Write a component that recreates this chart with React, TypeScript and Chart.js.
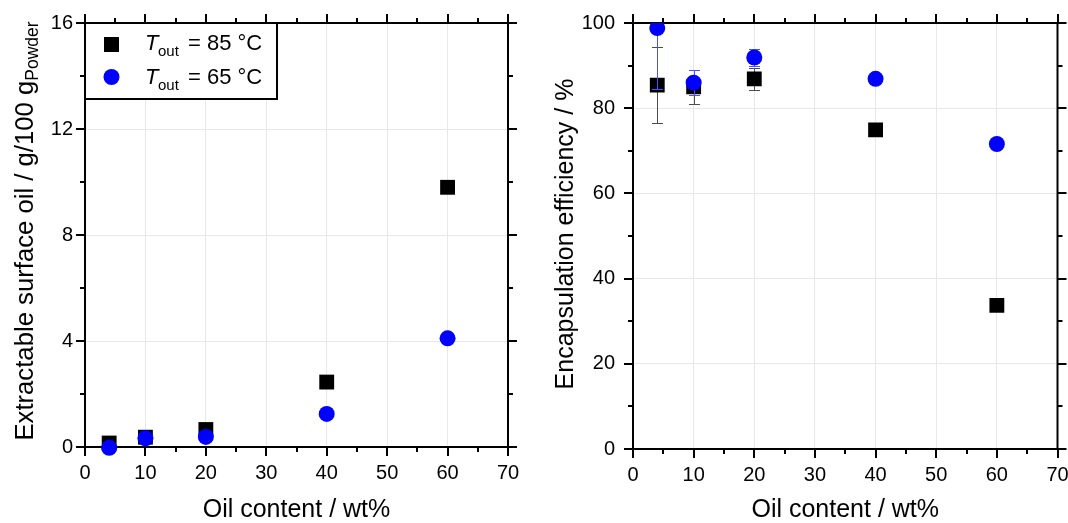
import React, { useEffect, useRef } from 'react';
import { Chart, registerables } from 'chart.js';

Chart.register(...registerables);

// ---------- data ----------
const oilContent = [4, 10, 20, 40, 60];
const surfaceOil85 = [0.15, 0.37, 0.66, 2.45, 9.8];
const surfaceOil65 = [-0.03, 0.33, 0.38, 1.25, 4.1];
const efficiency85 = [85.4, 85.0, 86.9, 74.9, 33.7];
const efficiency85Err = [8.9, 3.9, 2.6, 0.8, 1.4];
const efficiency65 = [98.8, 86.0, 91.9, 86.9, 71.6];
const efficiency65Err = [14.3, 3.0, 2.0, 0.8, 0.8];

const xMinorTicks = [5, 15, 25, 35, 45, 55, 65];
const xMajorTicks = [0, 10, 20, 30, 40, 50, 60, 70];
const leftYMajorTicks = [0, 4, 8, 12, 16];
const leftYMinorTicks = [2, 6, 10, 14];
const rightYMajorTicks = [0, 20, 40, 60, 80, 100];
const rightYMinorTicks = [10, 30, 50, 70, 90];

const legendTemps = ['85 °C', '65 °C'];
const xTitle = 'Oil content / wt%';
const leftYTitle = 'Extractable surface oil / g/100 g';
const leftYTitleSub = 'Powder';
const rightYTitle = 'Encapsulation efficiency / %';

const FONT = '"Liberation Sans", Arial, Helvetica, sans-serif';
const BLACK = '#000000';
const BLUE = '#0000ff';

type PanelCfg = {
  ys85: number[];
  ys65: number[];
  err85?: number[];
  err65?: number[];
  yMin: number;
  yMax: number;
  yStep: number;
  yMajor: number[];
  yMinor: number[];
  yWidth: number;
  xHeight: number;
  padRight: number;
  yLabelPad: number;
  clip: boolean;
  yTitleParts: { text: string; size: number; dy: number }[];
  yTitleX: number;
  yTitleY: number;
  legend: boolean;
};

function decorPlugin(p: PanelCfg) {
  return {
    id: 'decor',
    beforeDatasetsDraw(chart: any) {
      const { ctx, chartArea: a, scales } = chart;
      const x = scales.x;
      const y = scales.y;
      ctx.save();
      ctx.strokeStyle = BLACK;
      ctx.lineWidth = 2;
      ctx.lineCap = 'butt';
      ctx.strokeRect(a.left, a.top, a.right - a.left, a.bottom - a.top);
      const hTicks = (vals: number[], len: number) => {
        vals.forEach((v) => {
          const px = Math.round(x.getPixelForValue(v));
          ctx.beginPath();
          ctx.moveTo(px, a.bottom);
          ctx.lineTo(px, a.bottom + len);
          ctx.moveTo(px, a.top);
          ctx.lineTo(px, a.top - len);
          ctx.stroke();
        });
      };
      const vTicks = (vals: number[], len: number) => {
        vals.forEach((v) => {
          const py = Math.round(y.getPixelForValue(v));
          ctx.beginPath();
          ctx.moveTo(a.left, py);
          ctx.lineTo(a.left - len, py);
          ctx.moveTo(a.right, py);
          ctx.lineTo(a.right + len, py);
          ctx.stroke();
        });
      };
      hTicks(xMajorTicks, 9);
      hTicks(xMinorTicks, 5);
      vTicks(p.yMajor, 9);
      vTicks(p.yMinor, 5);
      ctx.restore();
    },
    beforeDatasetDraw(chart: any, args: any) {
      const ds = chart.data.datasets[args.index];
      if (!ds.errors) return;
      const { ctx, chartArea: a, scales } = chart;
      const x = scales.x;
      const y = scales.y;
      ctx.save();
      ctx.beginPath();
      ctx.rect(a.left, a.top, a.right - a.left, a.bottom - a.top);
      ctx.clip();
      ctx.strokeStyle = ds.errColor;
      ctx.lineWidth = 1;
      ds.data.forEach((pt: any, i: number) => {
        const e = ds.errors[i];
        const px = Math.round(x.getPixelForValue(pt.x)) + 0.5;
        const t = Math.round(y.getPixelForValue(pt.y + e)) + 0.5;
        const b = Math.round(y.getPixelForValue(pt.y - e)) + 0.5;
        ctx.beginPath();
        ctx.moveTo(px, t);
        ctx.lineTo(px, b);
        ctx.moveTo(px - 5.5, t);
        ctx.lineTo(px + 5.5, t);
        ctx.moveTo(px - 5.5, b);
        ctx.lineTo(px + 5.5, b);
        ctx.stroke();
      });
      ctx.restore();
    },
    afterDraw(chart: any) {
      const { ctx, chartArea: a } = chart;
      ctx.save();
      ctx.fillStyle = BLACK;
      // x title
      ctx.font = `25px ${FONT}`;
      ctx.textAlign = 'center';
      ctx.textBaseline = 'alphabetic';
      ctx.fillText(xTitle, (a.left + a.right) / 2, 517);
      // y title (rotated, may contain subscript)
      ctx.save();
      ctx.translate(p.yTitleX, p.yTitleY);
      ctx.rotate(-Math.PI / 2);
      ctx.textAlign = 'left';
      let total = 0;
      const widths = p.yTitleParts.map((part) => {
        ctx.font = `${part.size}px ${FONT}`;
        const w = ctx.measureText(part.text).width;
        total += w;
        return w;
      });
      let cx = -total / 2;
      p.yTitleParts.forEach((part, i) => {
        ctx.font = `${part.size}px ${FONT}`;
        ctx.fillText(part.text, cx, part.dy);
        cx += widths[i];
      });
      ctx.restore();
      // legend
      if (p.legend) {
        const lx = a.left;
        const ly = a.top;
        const lw = 192;
        const lh = 76;
        ctx.fillStyle = '#ffffff';
        ctx.fillRect(lx, ly, lw, lh);
        ctx.strokeStyle = BLACK;
        ctx.lineWidth = 2;
        ctx.strokeRect(lx, ly, lw, lh);
        // markers
        ctx.fillStyle = BLACK;
        ctx.fillRect(lx + 19, ly + 14, 15, 15);
        ctx.fillStyle = BLUE;
        ctx.beginPath();
        ctx.arc(lx + 26.5, ly + 54, 8, 0, Math.PI * 2);
        ctx.fill();
        ctx.fillStyle = BLACK;
        const rows = [ly + 27, ly + 61];
        rows.forEach((by, i) => {
          ctx.textAlign = 'left';
          ctx.font = `italic 22px ${FONT}`;
          ctx.fillText('T', lx + 60, by);
          ctx.font = `15px ${FONT}`;
          ctx.fillText('out', lx + 73, by + 6);
          ctx.font = `22px ${FONT}`;
          ctx.fillText('= ' + legendTemps[i], lx + 103, by);
        });
      }
      ctx.restore();
    },
  };
}

function makeConfig(p: PanelCfg): any {
  const tickFont = { family: FONT, size: 20 };
  return {
    type: 'scatter',
    data: {
      datasets: [
        {
          label: 'T_out = 85 °C',
          data: oilContent.map((x, i) => ({ x, y: p.ys85[i] })),
          pointStyle: 'rect',
          pointRadius: 10.5,
          pointHoverRadius: 10.5,
          backgroundColor: BLACK,
          borderColor: BLACK,
          borderWidth: 0,
          order: 2,
          errors: p.err85,
          errColor: '#4d4d4d',
          clip: p.clip ? undefined : false,
        },
        {
          label: 'T_out = 65 °C',
          data: oilContent.map((x, i) => ({ x, y: p.ys65[i] })),
          pointStyle: 'circle',
          pointRadius: 8,
          pointHoverRadius: 8,
          backgroundColor: BLUE,
          borderColor: BLUE,
          borderWidth: 0,
          order: 1,
          errors: p.err65,
          errColor: '#4f4fff',
          clip: p.clip ? undefined : false,
        },
      ],
    },
    options: {
      animation: false,
      responsive: false,
      devicePixelRatio: 1,
      events: [],
      layout: { padding: { top: 23, right: p.padRight, left: 0, bottom: 0 } },
      plugins: { legend: { display: false }, tooltip: { enabled: false }, title: { display: false } },
      scales: {
        x: {
          type: 'linear',
          position: 'bottom',
          min: 0,
          max: 70,
          ticks: { stepSize: 10, padding: 14, color: BLACK, font: tickFont, maxRotation: 0, autoSkip: false },
          grid: { color: '#e8e8e8', lineWidth: 1, drawTicks: false },
          border: { display: false },
          afterFit: (s: any) => {
            s.height = p.xHeight;
            s.paddingLeft = 0;
            s.paddingRight = 0;
          },
        },
        y: {
          type: 'linear',
          position: 'left',
          min: p.yMin,
          max: p.yMax,
          ticks: { stepSize: p.yStep, padding: p.yLabelPad, color: BLACK, font: tickFont, autoSkip: false },
          grid: { color: '#e8e8e8', lineWidth: 1, drawTicks: false },
          border: { display: false },
          afterFit: (s: any) => {
            s.width = p.yWidth;
            s.paddingTop = 0;
            s.paddingBottom = 0;
          },
        },
      },
    },
    plugins: [decorPlugin(p)],
  };
}

function Panel({ cfg, left }: { cfg: PanelCfg; left: number }) {
  const ref = useRef<HTMLCanvasElement | null>(null);
  useEffect(() => {
    if (!ref.current) return;
    const chart = new Chart(ref.current, makeConfig(cfg));
    return () => chart.destroy();
  }, []);
  return (
    <canvas
      ref={ref}
      width={534}
      height={523}
      style={{ position: 'absolute', left, top: 0, width: 534, height: 523 }}
    />
  );
}

const leftCfg: PanelCfg = {
  ys85: surfaceOil85,
  ys65: surfaceOil65,
  yMin: 0,
  yMax: 16,
  yStep: 4,
  yMajor: leftYMajorTicks,
  yMinor: leftYMinorTicks,
  yWidth: 85,
  xHeight: 76,
  padRight: 26,
  yLabelPad: 12,
  clip: false,
  yTitleParts: [
    { text: leftYTitle, size: 25.7, dy: 0 },
    { text: leftYTitleSub, size: 17.5, dy: 5 },
  ],
  yTitleX: 33,
  yTitleY: 231,
  legend: true,
};

const rightCfg: PanelCfg = {
  ys85: efficiency85,
  ys65: efficiency65,
  err85: efficiency85Err,
  err65: efficiency65Err,
  yMin: 0,
  yMax: 100,
  yStep: 20,
  yMajor: rightYMajorTicks,
  yMinor: rightYMinorTicks,
  yWidth: 99,
  xHeight: 74,
  padRight: 10,
  yLabelPad: 18,
  clip: true,
  yTitleParts: [{ text: rightYTitle, size: 25, dy: 0 }],
  yTitleX: 39,
  yTitleY: 234,
  legend: false,
};

export default function App() {
  return (
    <div style={{ position: 'absolute', left: 0, top: 0, width: 1068, height: 523, background: '#ffffff', overflow: 'hidden' }}>
      <Panel cfg={leftCfg} left={0} />
      <Panel cfg={rightCfg} left={534} />
    </div>
  );
}
